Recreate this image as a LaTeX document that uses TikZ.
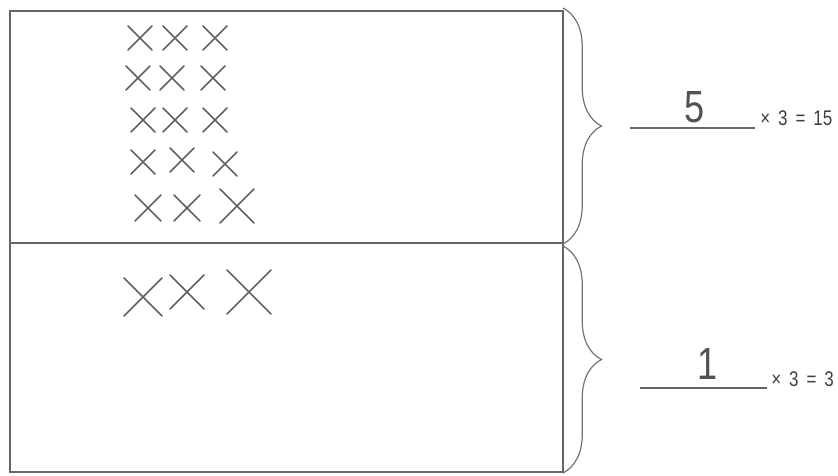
\documentclass[tikz,border=0pt]{standalone}
\usepackage{fontspec}
\setmainfont{Liberation Sans}
\newfontfamily\narrowfont[FakeStretch=0.8]{Liberation Sans}
\usetikzlibrary{decorations.pathreplacing}

\begin{document}
\begin{tikzpicture}[x=0.0265cm, y=-0.0265cm,
    frame/.style={draw=black!60, line width=1.4pt},
    cross/.style={draw=black!62, line width=1.3pt, line cap=round},
    curly/.style={draw=black!55, line width=0.9pt, decorate, decoration={brace, amplitude=29pt}},
    blank/.style={draw=black!60, line width=1.2pt},
    digit/.style={text=black!68, font=\narrowfont\fontsize{34}{34}\selectfont, inner sep=0pt},
    product/.style={text=black!75, font=\narrowfont\fontsize{16}{16}\selectfont, inner sep=0pt, anchor=west}]
    \useasboundingbox (0,0) rectangle (838,475);

    % Ramka
    \coordinate (tl) at (10,11);
    \coordinate (tr) at (563,11);
    \coordinate (bl) at (10,472);
    \coordinate (br) at (563,472);
    \coordinate (ml) at (10,243);
    \coordinate (mr) at (563,243);

    \draw[frame] (tl) -- (tr) -- (br) -- (bl) -- cycle;
    \draw[frame] (ml) -- (mr);

    % Krzyzyki
    \foreach \cx/\cy/\s in {140/38/12, 175/38/12, 215/38/12,
                            138/78/12, 172/78/12, 213/78/12,
                            143/120/12, 175/120/12, 215/120/12,
                            143/162/12, 182/160/12, 225/164/12,
                            148/208/13, 187/208/13, 237/206/17,
                            143/297/19, 187/292/17, 249/292/22}
        \draw[cross] (\cx-\s,\cy-\s) -- (\cx+\s,\cy+\s) (\cx-\s,\cy+\s) -- (\cx+\s,\cy-\s);

    % Klamry
    \coordinate (utop) at (563,8);
    \coordinate (ubot) at (563,244);
    \coordinate (ltop) at (563,246);
    \coordinate (lbot) at (563,473);

    \draw[curly] (utop) -- (ubot);
    \draw[curly] (ltop) -- (lbot);

    % Odpowiedzi
    \coordinate (a1) at (630,128);
    \coordinate (b1) at (755,128);
    \coordinate (a2) at (640,388);
    \coordinate (b2) at (767,388);

    \draw[blank] (a1) -- (b1);
    \draw[blank] (a2) -- (b2);

    \node[digit] (five) at (695,107) {5};
    \node[digit] (one) at (708,364) {1};
    \node[product] (eq1) at (760,118) {×\hspace{6pt}3\hspace{6pt}=\hspace{6pt}15};
    \node[product] (eq2) at (771,379) {×\hspace{6pt}3\hspace{6pt}=\hspace{6pt}3};

\end{tikzpicture}
\end{document}
